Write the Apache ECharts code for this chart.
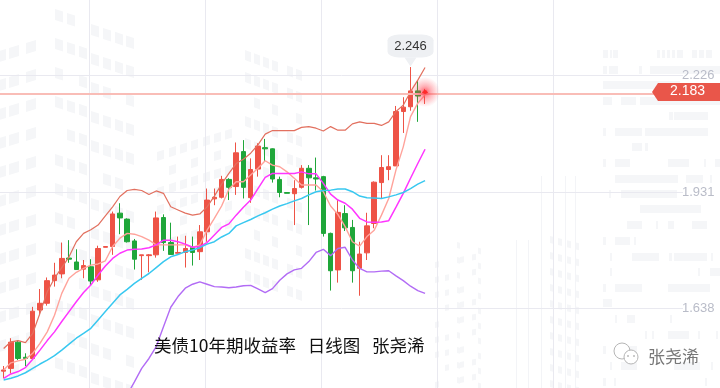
<!DOCTYPE html>
<html>
<head>
<meta charset="utf-8">
<style>
html,body{margin:0;padding:0;background:#fff}
#main{width:720px;height:388px}
</style>
<script src="https://cdn.jsdelivr.net/npm/echarts@6/dist/echarts.min.js"></script>
</head>
<body>
<div id="main"></div>
<script>
// [open, close, low, high]
var candles = [
[1.480,1.483,1.462,1.493],[1.487,1.553,1.474,1.563],[1.553,1.512,1.508,1.558],[1.515,1.512,1.493,1.525],
[1.512,1.631,1.512,1.642],[1.634,1.651,1.621,1.687],[1.651,1.708,1.645,1.716],[1.708,1.722,1.693,1.753],
[1.725,1.764,1.714,1.804],[1.765,1.762,1.753,1.810],[1.755,1.736,1.735,1.787],[1.737,1.746,1.714,1.760],
[1.743,1.707,1.697,1.762],[1.710,1.789,1.705,1.796],[1.792,1.794,1.792,1.794],[1.794,1.876,1.773,1.882],
[1.878,1.866,1.825,1.903],[1.863,1.806,1.804,1.865],[1.808,1.762,1.736,1.813],[1.771,1.773,1.710,1.773],
[1.771,1.773,1.729,1.775],[1.773,1.866,1.766,1.882],[1.867,1.804,1.783,1.875],[1.804,1.774,1.773,1.854],
[1.777,1.779,1.777,1.819],[1.779,1.789,1.741,1.821],[1.792,1.779,1.746,1.819],[1.781,1.831,1.760,1.848],
[1.831,1.911,1.806,1.940],[1.914,1.918,1.898,1.940],[1.918,1.963,1.915,1.972],[1.963,1.943,1.911,1.966],
[1.945,2.030,1.924,2.056],[2.033,1.943,1.915,2.062],[1.917,1.988,1.904,2.016],[1.989,2.047,1.970,2.054],
[2.043,2.040,2.008,2.065],[2.040,1.964,1.955,2.041],[1.963,1.930,1.918,1.970],[1.930,1.928,1.928,1.930],
[1.927,1.940,1.848,1.961],[1.943,1.991,1.940,1.999],[1.991,1.967,1.848,1.999],[1.967,1.964,1.935,2.018],
[1.970,1.827,1.819,1.972],[1.827,1.733,1.683,1.829],[1.735,1.880,1.703,1.911],[1.877,1.841,1.833,1.898],
[1.842,1.733,1.703,1.861],[1.739,1.775,1.670,1.806],[1.778,1.846,1.760,1.879],[1.852,1.956,1.840,1.958],
[1.955,1.993,1.915,2.024],[1.988,1.995,1.961,2.024],[1.997,2.134,1.997,2.148],[2.134,2.145,2.080,2.170],
[2.146,2.186,2.136,2.246],[2.186,2.173,2.108,2.213],[2.178,2.183,2.153,2.191]
]
var upperBand = [1.537,1.554,1.557,1.552,1.575,1.626,1.680,1.714,1.741,1.768,1.806,1.827,1.836,1.848,1.871,1.894,1.920,1.935,1.938,1.935,
1.925,1.934,1.928,1.894,1.886,1.878,1.873,1.876,1.894,1.921,1.951,1.978,2.003,2.014,2.029,2.050,2.077,2.086,2.086,2.086,
2.086,2.094,2.096,2.092,2.085,2.096,2.087,2.087,2.103,2.108,2.104,2.104,2.099,2.108,2.134,2.150,2.184,2.213,2.245]
var lowerBand = [null,null,null,null,null,null,null,null,null,null,null,null,null,null,null,null,null,
1.420,1.453,1.487,1.512,1.542,1.592,1.641,1.668,1.689,1.699,1.705,1.699,1.693,1.692,1.690,1.692,1.695,1.696,1.687,1.678,1.688,1.709,1.725,
1.735,1.739,1.756,1.779,1.787,1.771,1.789,1.792,1.760,1.739,1.730,1.730,1.732,1.733,1.720,1.708,1.694,1.683,1.676]
var ma5 = [1.483,1.501,1.506,1.510,1.525,1.550,1.579,1.621,1.676,1.714,1.729,1.739,1.747,1.750,1.758,1.794,1.815,1.827,1.825,1.819,
1.810,1.798,1.798,1.798,1.798,1.798,1.792,1.798,1.835,1.865,1.896,1.938,1.957,1.957,1.974,1.991,2.010,1.999,1.995,1.982,
1.966,1.949,1.949,1.949,1.932,1.896,1.875,1.844,1.806,1.795,1.819,1.835,1.873,1.915,1.987,2.045,2.121,2.155,2.176]
var ma10 = [1.462,1.473,1.479,1.489,1.510,1.533,1.557,1.579,1.605,1.630,1.655,1.678,1.697,1.722,1.745,1.764,1.777,1.785,1.787,1.788,
1.791,1.798,1.810,1.810,1.806,1.800,1.792,1.794,1.804,1.823,1.842,1.851,1.873,1.893,1.911,1.940,1.968,1.978,1.978,1.978,
1.978,1.982,1.977,1.977,1.953,1.926,1.911,1.903,1.888,1.865,1.856,1.855,1.856,1.859,1.893,1.928,1.966,2.003,2.039]
var ma20 = [1.458,1.462,1.468,1.476,1.487,1.498,1.508,1.519,1.533,1.548,1.563,1.575,1.588,1.609,1.630,1.651,1.672,1.686,1.701,1.714,
1.726,1.741,1.756,1.768,1.774,1.781,1.785,1.791,1.800,1.806,1.818,1.827,1.846,1.854,1.862,1.871,1.879,1.888,1.896,1.902,
1.909,1.915,1.924,1.932,1.935,1.936,1.939,1.939,1.932,1.921,1.917,1.916,1.915,1.919,1.924,1.930,1.940,1.951,1.960]
var yTicks = [1.638,1.931,2.226]
var xGridLines = [11.75,27.75,43.7,59.7,75.7]
var lastPrice = 2.183
var peakIndex = 56
var peakPrice = 2.246
var titleText = '美债10年期收益率   日线图   张尧浠'
var brandText = '张尧浠'

var categories = []
for(var i=0;i<94;i++){ categories.push('D'+(i+1)) }

var bgColor = '#f5f6f8'
var bg = []

function win(x,y,w,h,slope){
	bg.push({type:'polygon',silent:true,z:-1,
		shape:{points:[[x,y],[x+w,y+slope],[x+w,y+slope+h],[x,y+h]]},
		style:{fill:bgColor}})
}
// 楼 windows, left and right face of each tower
function tower(xs,y0,rows,dy,w,h,slope,skip,t){
	for(var c=0;c<xs.length;c++){
		for(var r=0;r<rows;r++){
			if((c*3+r*5+t)%skip==0) continue
			win(xs[c],y0+r*dy+(xs[c]-xs[0])*slope/w,w,h,slope)
		}
	}
}
tower([55,67,79],9,13,29,8,11,2.6,7,1)
tower([91,103,115,126],24,13,29,8,11,2.6,9,2)
tower([-4,9,26],52,12,29,10,11,-3,5,3)
tower([157,169,180,191,203,214,225],152,6,18,7,9,-2.2,6,1)
tower([245,254,263,272,287,296],50,11,22,6,10,2.2,6,2)
tower([435,445,460,472],262,10,15,4,6,-0.8,4,1)
tower([457,468,478],242,11,15,3,6,0.8,5,2)
tower([550,558,567,575,584],236,12,16,4,7,1,5,3)

var vLines = [516,528,541,553,565,575]
for(i=0;i<vLines.length;i++){
	bg.push({type:'rect',silent:true,z:-1,shape:{x:vLines[i],y:i<2?240:176,width:1,height:i<2?148:212},style:{fill:'#f3f4f7'}})
}

// 右边的灰色方块 [x, y, w]
var blocks = [
[603,50,5],[610,50,2],[613,50,5],[657,50,3],[662,50,3],[667,50,3],[672,50,3],[677,50,6],[692,50,5],[699,50,5],[706,50,6],
[603,66,4],[609,66,9],[639,66,3],[650,66,70],[603,81,77],[603,97,9],[621,97,15],[640,97,80],[669,112,4],[674,112,34],
[603,128,3],[615,128,27],[645,128,63],[632,143,10],[645,143,3],[603,159,3],[615,159,15],[668,159,21],[704,159,2],[715,159,5],
[615,175,63],[686,175,17],[710,175,2],[609,190,2],[621,190,56],[640,205,61],[627,221,15],[656,221,2],[668,221,6],[692,221,15],
[603,237,3],[615,237,15],[634,237,2],[610,253,2],[632,253,27],[669,253,3],[674,253,33],[711,253,2],[610,268,2],[698,268,2],[710,268,10],
[603,284,3],[615,284,27],[668,284,42],[603,299,9],[615,315,2],[627,315,8],[670,315,2],[645,331,2],[652,331,2],[668,331,21],[698,331,2],[716,331,2],
[603,346,3],[615,346,22],[610,362,2],[621,362,16],[674,362,26],[711,362,2],[603,378,3],[614,378,2],[705,378,2]
]
for(i=0;i<blocks.length;i++){
	bg.push({type:'rect',silent:true,z:-1,shape:{x:blocks[i][0],y:blocks[i][1],width:blocks[i][2],height:8},style:{fill:bgColor}})
}

function lineSeries(name,data,color,width){
	return {name:name,type:'line',data:data,symbol:'none',smooth:false,silent:true,z:3,
		lineStyle:{color:color,width:width},connectNulls:false}
}

var chart = echarts.init(document.getElementById('main'))

var upperSeries = lineSeries('UB',upperBand,'#e2705f',1.2)
upperSeries.markLine = {silent:true,symbol:'none',animation:false,z:4,
	data:[{yAxis:lastPrice,lineStyle:{color:'#f9bdb7',width:2,type:'solid',opacity:1}}],
	label:{show:false}}

var option = {
	animation:false,
	title:{text:titleText,left:154,top:337,padding:0,
		textStyle:{color:'#111',fontSize:17.5,fontWeight:'normal',fontFamily:'"Noto Sans CJK SC"'}},
	grid:{left:0,right:37,top:0,bottom:0},
	xAxis:[
		{type:'category',data:categories,boundaryGap:true,
			axisLine:{show:false},axisTick:{show:false},axisLabel:{show:false},splitLine:{show:false}},
		{type:'value',min:-0.5,max:93.5,position:'top',
			axisLine:{show:false},axisLabel:{show:false},
			axisTick:{show:false,customValues:xGridLines},
			splitLine:{show:true,lineStyle:{color:'#e9e9f0',width:1}}}
	],
	yAxis:{type:'value',min:1.4376,max:2.4149,position:'right',
		axisLine:{show:false},
		axisTick:{show:false,customValues:yTicks},
		axisLabel:{customValues:yTicks,margin:-1,color:'#b9bcc8',fontSize:13,
			fontFamily:'"Liberation Sans"',
			formatter:function(v){return v.toFixed(3)}},
		splitLine:{show:true,lineStyle:{color:'#e9e9f0',width:1}}},
	series:[
		{name:'K',type:'candlestick',data:candles,barWidth:5,z:2,silent:true,
			itemStyle:{color:'#ee5346',color0:'#1fa63a',borderColor:'#ee5346',borderColor0:'#1fa63a',borderWidth:1},
			markPoint:{silent:true,animation:false,z:6,
				data:[
					{coord:[peakIndex,peakPrice],symbol:'triangle',symbolRotate:180,symbolSize:[12,9],symbolOffset:[0,-5],
						itemStyle:{color:'#eef0f3'},label:{show:false}},
					{coord:[peakIndex,peakPrice],symbol:'roundRect',symbolSize:[46,23],symbolOffset:[0,-21],
						itemStyle:{color:'#eef0f3'},value:peakPrice,
						label:{show:true,position:'inside',color:'#333',fontSize:13,fontFamily:'"Liberation Sans"',
							formatter:function(){return peakPrice.toFixed(3)}}}
				]}},
		upperSeries,
		lineSeries('MA5',ma5,'#ffa39b',1.4),
		lineSeries('MA10',ma10,'#ff35ff',1.5),
		lineSeries('MA20',ma20,'#38c8f0',1.5),
		lineSeries('LB',lowerBand,'#b26cf5',1.4),
		{name:'glow',type:'scatter',silent:true,z:5,symbolSize:30,
			data:[[58,lastPrice]],
			itemStyle:{opacity:1,color:{type:'radial',x:0.5,y:0.5,r:0.5,colorStops:[
				{offset:0,color:'rgba(255,30,45,0.75)'},
				{offset:0.4,color:'rgba(255,60,75,0.4)'},
				{offset:1,color:'rgba(255,90,100,0)'}]}}},
		{name:'dot',type:'scatter',silent:true,z:6,symbolSize:4,
			data:[[58,lastPrice]],itemStyle:{color:'#ff2a2a',opacity:1}}
	],
	graphic:bg
}
chart.setOption(option)

// 价格标签跟着 y 轴走
var tagY = chart.convertToPixel({yAxisIndex:0},lastPrice)
var extra = [
	{type:'polygon',silent:true,z:20,
		shape:{points:[[652,tagY],[658,tagY-9],[720,tagY-9],[720,tagY+9],[658,tagY+9]]},
		style:{fill:'#e9564a'}},
	{type:'text',silent:true,z:21,x:670,y:tagY-8,
		style:{text:lastPrice.toFixed(3),fill:'#fff',fontSize:14,fontFamily:'"Liberation Sans"'}},
	// 公众号图标
	{type:'circle',silent:true,z:20,shape:{cx:622,cy:351,r:8},style:{fill:'#fff',stroke:'#b5b5b5',lineWidth:1}},
	{type:'circle',silent:true,z:21,shape:{cx:631,cy:357,r:7},style:{fill:'#fff',stroke:'#b5b5b5',lineWidth:1}},
	{type:'circle',silent:true,z:22,shape:{cx:628,cy:356,r:0.8},style:{fill:'#888'}},
	{type:'circle',silent:true,z:22,shape:{cx:634,cy:356,r:0.8},style:{fill:'#888'}},
	{type:'text',silent:true,z:20,x:648,y:348,
		style:{text:brandText,fill:'#777',fontSize:17,fontFamily:'"Noto Sans CJK SC"'}}
]
chart.setOption({graphic:bg.concat(extra)})
</script>
</body>
</html>
